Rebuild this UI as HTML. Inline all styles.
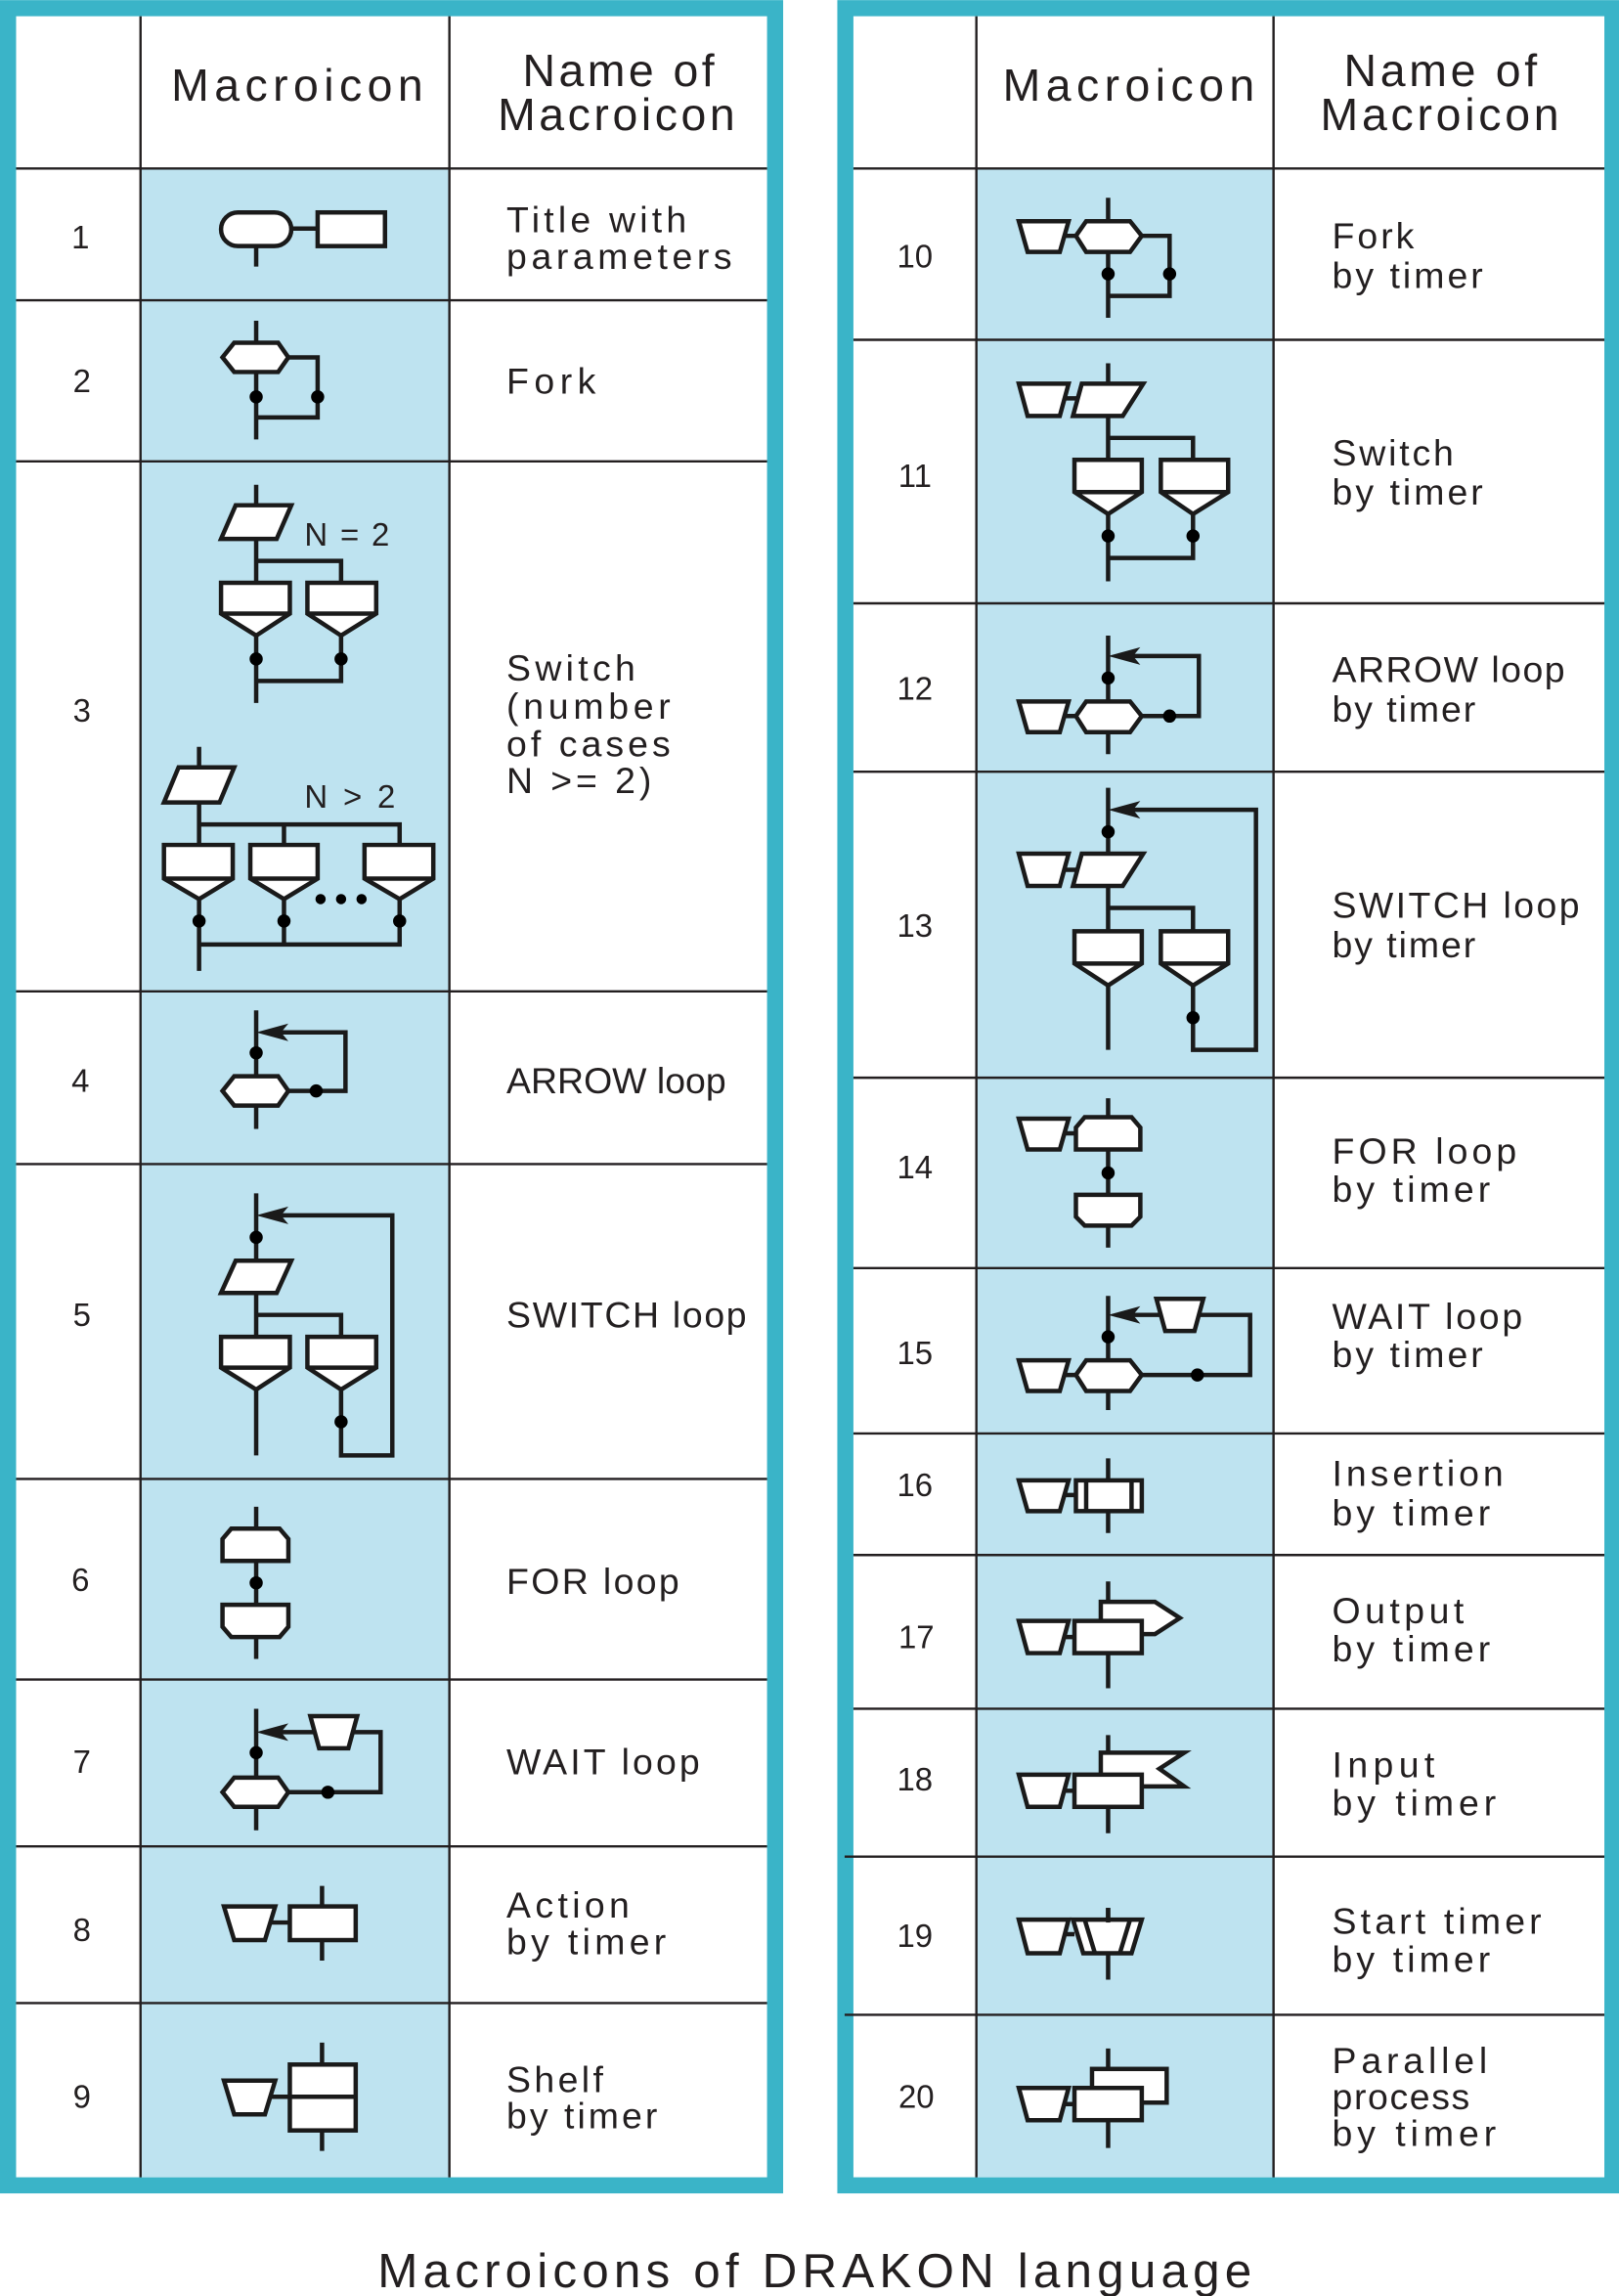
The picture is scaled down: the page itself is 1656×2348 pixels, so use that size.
<!DOCTYPE html>
<html><head><meta charset="utf-8"><style>
html,body{margin:0;padding:0;background:#fff}
svg{display:block}
text{font-family:"Liberation Sans",Arial,sans-serif;fill:#231f20}
.n{font-size:22px;text-anchor:middle;dominant-baseline:central}
.t{font-size:25px;dominant-baseline:central}
.h{font-size:31px;dominant-baseline:central}
.s{fill:#fff;stroke:#1a1a1a;stroke-width:3;stroke-linejoin:miter}
.l{fill:none;stroke:#1a1a1a;stroke-width:3}
.g{stroke:#231f20;stroke-width:1.6}
</style></head><body>
<svg width="1656" height="2348" viewBox="0 0 1106 1568" xmlns="http://www.w3.org/2000/svg">
<rect width="1106" height="1568" fill="#fff"/>
<rect x="0" y="0" width="535" height="1498" fill="#3ab4c8"/>
<rect x="11" y="11" width="513" height="1476" fill="#fff"/>
<rect x="572" y="0" width="534" height="1498" fill="#3ab4c8"/>
<rect x="583" y="11" width="513" height="1476" fill="#fff"/>
<rect x="96" y="115" width="211" height="1372" fill="#bee3f0"/>
<rect x="667" y="115" width="203" height="1372" fill="#bee3f0"/>
<g class="g">
<line x1="96" y1="11" x2="96" y2="1487"/><line x1="307" y1="11" x2="307" y2="1487"/>
<line x1="11" y1="115" x2="524" y2="115"/><line x1="11" y1="205" x2="524" y2="205"/>
<line x1="11" y1="315" x2="524" y2="315"/><line x1="11" y1="677" x2="524" y2="677"/>
<line x1="11" y1="795" x2="524" y2="795"/><line x1="11" y1="1010" x2="524" y2="1010"/>
<line x1="11" y1="1147" x2="524" y2="1147"/><line x1="11" y1="1261" x2="524" y2="1261"/>
<line x1="11" y1="1368" x2="524" y2="1368"/>
<line x1="667" y1="11" x2="667" y2="1487"/><line x1="870" y1="11" x2="870" y2="1487"/>
<line x1="583" y1="115" x2="1096" y2="115"/><line x1="583" y1="232" x2="1096" y2="232"/>
<line x1="583" y1="412" x2="1096" y2="412"/><line x1="583" y1="527" x2="1096" y2="527"/>
<line x1="583" y1="736" x2="1096" y2="736"/><line x1="583" y1="866" x2="1096" y2="866"/>
<line x1="583" y1="979" x2="1096" y2="979"/><line x1="583" y1="1062" x2="1096" y2="1062"/>
<line x1="583" y1="1167" x2="1096" y2="1167"/><line x1="577" y1="1268" x2="1096" y2="1268"/>
<line x1="577" y1="1376" x2="1096" y2="1376"/>
</g>
<text class="h" x="117" y="58" textLength="172" lengthAdjust="spacing">Macroicon</text>
<text class="h" x="357" y="48" textLength="131" lengthAdjust="spacing">Name of</text>
<text class="h" x="340" y="78" textLength="162" lengthAdjust="spacing">Macroicon</text>
<text class="h" x="685" y="58" textLength="172" lengthAdjust="spacing">Macroicon</text>
<text class="h" x="918" y="48" textLength="132" lengthAdjust="spacing">Name of</text>
<text class="h" x="902" y="78" textLength="163" lengthAdjust="spacing">Macroicon</text>
<text class="n" x="55" y="162">1</text><text class="n" x="56" y="260">2</text>
<text class="n" x="56" y="485">3</text><text class="n" x="55" y="738">4</text>
<text class="n" x="56" y="898">5</text><text class="n" x="55" y="1079">6</text>
<text class="n" x="56" y="1203">7</text><text class="n" x="56" y="1318">8</text>
<text class="n" x="56" y="1432">9</text>
<text class="n" x="625" y="175">10</text><text class="n" x="625" y="325">11</text>
<text class="n" x="625" y="470">12</text><text class="n" x="625" y="632">13</text>
<text class="n" x="625" y="797">14</text><text class="n" x="625" y="924">15</text>
<text class="n" x="625" y="1014">16</text><text class="n" x="626" y="1118">17</text>
<text class="n" x="625" y="1215">18</text><text class="n" x="625" y="1322">19</text>
<text class="n" x="626" y="1432">20</text>
<text class="t" x="346" y="150" textLength="123" lengthAdjust="spacing">Title with</text>
<text class="t" x="346" y="175" textLength="154" lengthAdjust="spacing">parameters</text>
<text class="t" x="346" y="260" textLength="61" lengthAdjust="spacing">Fork</text>
<text class="t" x="346" y="456" textLength="88" lengthAdjust="spacing">Switch</text>
<text class="t" x="346" y="482" textLength="112" lengthAdjust="spacing">(number</text>
<text class="t" x="346" y="508" textLength="112" lengthAdjust="spacing">of cases</text>
<text class="t" x="346" y="533" textLength="99" lengthAdjust="spacing">N &gt;= 2)</text>
<text class="t" x="346" y="738" textLength="150" lengthAdjust="spacing">ARROW loop</text>
<text class="t" x="346" y="898" textLength="164" lengthAdjust="spacing">SWITCH loop</text>
<text class="t" x="346" y="1080" textLength="118" lengthAdjust="spacing">FOR loop</text>
<text class="t" x="346" y="1203" textLength="132" lengthAdjust="spacing">WAIT loop</text>
<text class="t" x="346" y="1301" textLength="84" lengthAdjust="spacing">Action</text>
<text class="t" x="346" y="1326" textLength="109" lengthAdjust="spacing">by timer</text>
<text class="t" x="346" y="1420" textLength="66" lengthAdjust="spacing">Shelf</text>
<text class="t" x="346" y="1445" textLength="103" lengthAdjust="spacing">by timer</text>
<text class="t" x="910" y="161" textLength="56" lengthAdjust="spacing">Fork</text>
<text class="t" x="910" y="188" textLength="103" lengthAdjust="spacing">by timer</text>
<text class="t" x="910" y="309" textLength="83" lengthAdjust="spacing">Switch</text>
<text class="t" x="910" y="336" textLength="103" lengthAdjust="spacing">by timer</text>
<text class="t" x="910" y="457" textLength="159" lengthAdjust="spacing">ARROW loop</text>
<text class="t" x="910" y="484" textLength="98" lengthAdjust="spacing">by timer</text>
<text class="t" x="910" y="618" textLength="169" lengthAdjust="spacing">SWITCH loop</text>
<text class="t" x="910" y="645" textLength="98" lengthAdjust="spacing">by timer</text>
<text class="t" x="910" y="786" textLength="126" lengthAdjust="spacing">FOR loop</text>
<text class="t" x="910" y="812" textLength="108" lengthAdjust="spacing">by timer</text>
<text class="t" x="910" y="899" textLength="130" lengthAdjust="spacing">WAIT loop</text>
<text class="t" x="910" y="925" textLength="103" lengthAdjust="spacing">by timer</text>
<text class="t" x="910" y="1006" textLength="117" lengthAdjust="spacing">Insertion</text>
<text class="t" x="910" y="1033" textLength="108" lengthAdjust="spacing">by timer</text>
<text class="t" x="910" y="1100" textLength="90" lengthAdjust="spacing">Output</text>
<text class="t" x="910" y="1126" textLength="108" lengthAdjust="spacing">by timer</text>
<text class="t" x="910" y="1205" textLength="70" lengthAdjust="spacing">Input</text>
<text class="t" x="910" y="1231" textLength="112" lengthAdjust="spacing">by timer</text>
<text class="t" x="910" y="1312" textLength="143" lengthAdjust="spacing">Start timer</text>
<text class="t" x="910" y="1338" textLength="108" lengthAdjust="spacing">by timer</text>
<text class="t" x="910" y="1407" textLength="106" lengthAdjust="spacing">Parallel</text>
<text class="t" x="910" y="1432" textLength="94" lengthAdjust="spacing">process</text>
<text class="t" x="910" y="1457" textLength="112" lengthAdjust="spacing">by timer</text>
<text x="258" y="1551" style="font-size:33px;dominant-baseline:central" textLength="597" lengthAdjust="spacing">Macroicons of DRAKON language</text>

<line class="l" x1="175" y1="166" x2="175" y2="182"/>
<line class="l" x1="199" y1="156" x2="217" y2="156"/>
<rect class="s" x="151" y="145" width="48" height="23" rx="11.5"/>
<rect class="s" x="217" y="145" width="46" height="23"/>
<path class="l" d="M175 219V300M197 244H217V285H175"/>
<polygon class="s" points="152,244 160,234 190,234 197,244 190,254 160,254"/>
<circle cx="175" cy="271" r="4.5"/><circle cx="217" cy="271" r="4.5"/>
<path class="l" d="M175 331V480M175 383H233V398M175 465H233V434"/>
<polygon class="s" points="151,368 161,345 199,345 189,368"/>
<text x="208" y="365" style="font-size:22px;dominant-baseline:central" textLength="58" lengthAdjust="spacing">N = 2</text>
<polygon class="s" points="151,398 198,398 198,419 175,434 151,419"/><line class="l" x1="151" y1="419" x2="198" y2="419"/>
<polygon class="s" points="210,398 257,398 257,419 233,434 210,419"/><line class="l" x1="210" y1="419" x2="257" y2="419"/>
<circle cx="175" cy="450" r="4.5"/><circle cx="233" cy="450" r="4.5"/>
<path class="l" d="M136 510V663M136 563H273V577M194 563V577M136 645H273V614M194 645V614"/>
<polygon class="s" points="112,548 122,524 160,524 150,548"/>
<text x="208" y="544" style="font-size:22px;dominant-baseline:central" textLength="62" lengthAdjust="spacing">N &gt; 2</text>
<polygon class="s" points="112,577 159,577 159,600 136,614 112,600"/><line class="l" x1="112" y1="600" x2="159" y2="600"/>
<polygon class="s" points="171,577 217,577 217,600 194,614 171,600"/><line class="l" x1="171" y1="600" x2="217" y2="600"/>
<polygon class="s" points="249,577 296,577 296,600 273,614 249,600"/><line class="l" x1="249" y1="600" x2="296" y2="600"/>
<circle cx="136" cy="629" r="4.5"/><circle cx="194" cy="629" r="4.5"/><circle cx="273" cy="629" r="4.5"/>
<circle cx="219" cy="614" r="3.5"/><circle cx="233" cy="614" r="3.5"/><circle cx="247" cy="614" r="3.5"/>
<path class="l" d="M175 690V771M188 705H236V745H197"/>
<polygon points="175,705 197,699 192,705 197,711" fill="#1a1a1a"/>
<polygon class="s" points="152,745 160,735 190,735 197,745 190,755 160,755"/>
<circle cx="175" cy="719" r="4.5"/><circle cx="216" cy="745" r="4.5"/>
<path class="l" d="M175 815V994M188 830H268V994H233V934M175 898H233V913"/>
<polygon points="175,830 197,824 192,830 197,836" fill="#1a1a1a"/>
<polygon class="s" points="151,883 161,861 199,861 189,883"/>
<polygon class="s" points="151,913 198,913 198,934 175,949 151,934"/><line class="l" x1="151" y1="934" x2="198" y2="934"/>
<polygon class="s" points="210,913 257,913 257,934 233,949 210,934"/><line class="l" x1="210" y1="934" x2="257" y2="934"/>
<circle cx="175" cy="845" r="4.5"/><circle cx="233" cy="971" r="4.5"/>
<line class="l" x1="175" y1="1029" x2="175" y2="1133"/>
<polygon class="s" points="152,1051 158,1044 191,1044 197,1051 197,1066 152,1066"/>
<polygon class="s" points="152,1096 197,1096 197,1111 191,1118 158,1118 152,1111"/>
<circle cx="175" cy="1081" r="4.5"/>
<path class="l" d="M175 1167V1250M188 1183H214M242 1183H260V1224H197"/>
<polygon points="175,1183 197,1177 192,1183 197,1189" fill="#1a1a1a"/>
<polygon class="s" points="212,1172 244,1172 238,1194 218,1194"/>
<polygon class="s" points="152,1224 160,1214 190,1214 197,1224 190,1234 160,1234"/>
<circle cx="175" cy="1197" r="4.5"/><circle cx="224" cy="1224" r="4.5"/>
<path class="l" d="M220 1288V1339M184 1313H198"/>
<polygon class="s" points="153,1302 188,1302 181,1325 160,1325"/>
<rect class="s" x="198" y="1302" width="45" height="23"/>
<path class="l" d="M220 1395V1469M184 1432H198"/>
<polygon class="s" points="153,1421 188,1421 181,1444 160,1444"/>
<rect class="s" x="198" y="1410" width="45" height="45"/><line class="l" x1="198" y1="1432" x2="243" y2="1432"/>

<path class="l" d="M757 135V217M779 161H799V202H757M726 161H736"/>
<polygon class="s" points="696,151 730,151 724,172 702,172"/>
<polygon class="s" points="735,161 742,151 772,151 780,161 772,172 742,172"/>
<circle cx="757" cy="187" r="4.5"/><circle cx="799" cy="187" r="4.5"/>
<path class="l" d="M757 248V397M757 299H815V314M757 381H815V351M726 272H737"/>
<polygon class="s" points="696,262 730,262 724,284 702,284"/>
<polygon class="s" points="733,284 739,262 781,262 767,284"/>
<polygon class="s" points="734,314 780,314 780,336 757,351 734,336"/><line class="l" x1="734" y1="336" x2="780" y2="336"/>
<polygon class="s" points="793,314 839,314 839,336 815,351 793,336"/><line class="l" x1="793" y1="336" x2="839" y2="336"/>
<circle cx="757" cy="366" r="4.5"/><circle cx="815" cy="366" r="4.5"/>
<path class="l" d="M757 434V515M770 448H819V489H779M726 489H736"/>
<polygon points="757,448 779,442 774,448 779,454" fill="#1a1a1a"/>
<polygon class="s" points="696,479 730,479 724,500 702,500"/>
<polygon class="s" points="735,489 742,479 772,479 780,489 772,500 742,500"/>
<circle cx="757" cy="463" r="4.5"/><circle cx="799" cy="489" r="4.5"/>
<path class="l" d="M757 538V717M770 553H858V717H815V658M757 620H815V635M726 594H737"/>
<polygon points="757,553 779,547 774,553 779,559" fill="#1a1a1a"/>
<polygon class="s" points="696,583 730,583 724,605 702,605"/>
<polygon class="s" points="733,605 739,583 781,583 767,605"/>
<polygon class="s" points="734,636 780,636 780,658 757,673 734,658"/><line class="l" x1="734" y1="658" x2="780" y2="658"/>
<polygon class="s" points="793,636 839,636 839,658 815,673 793,658"/><line class="l" x1="793" y1="658" x2="839" y2="658"/>
<circle cx="757" cy="568" r="4.5"/><circle cx="815" cy="695" r="4.5"/>
<path class="l" d="M757 750V852M726 774H735"/>
<polygon class="s" points="696,764 730,764 724,785 702,785"/>
<polygon class="s" points="735,770 741,763 773,763 779,770 779,785 735,785"/>
<polygon class="s" points="735,816 779,816 779,831 773,837 741,837 735,831"/>
<circle cx="757" cy="801" r="4.5"/>
<path class="l" d="M757 885V963M770 898H792M820 898H854V939H779M726 939H736"/>
<polygon points="757,898 779,892 774,898 779,904" fill="#1a1a1a"/>
<polygon class="s" points="790,887 822,887 816,909 796,909"/>
<polygon class="s" points="696,929 730,929 724,950 702,950"/>
<polygon class="s" points="735,939 742,929 772,929 780,939 772,950 742,950"/>
<circle cx="757" cy="913" r="4.5"/><circle cx="818" cy="939" r="4.5"/>
<path class="l" d="M757 996V1047M726 1021H735"/>
<polygon class="s" points="696,1011 730,1011 724,1032 702,1032"/>
<rect class="s" x="735" y="1011" width="45" height="21"/>
<line class="l" x1="742" y1="1011" x2="742" y2="1032"/><line class="l" x1="773" y1="1011" x2="773" y2="1032"/>
<path class="l" d="M757 1080V1153M726 1118H735"/>
<polygon class="s" points="752,1116 752,1094 789,1094 806,1105 789,1116"/>
<polygon class="s" points="696,1107 730,1107 724,1129 702,1129"/>
<rect class="s" x="734" y="1107" width="46" height="22"/>
<path class="l" d="M757 1185V1252M726 1223H734"/>
<polygon class="s" points="752,1212 752,1197 809,1197 792,1208 809,1220 780,1220"/>
<polygon class="s" points="696,1212 730,1212 724,1234 702,1234"/>
<rect class="s" x="734" y="1212" width="46" height="22"/>
<path class="l" d="M757 1303V1352M726 1321H734"/>
<polygon class="s" points="696,1311 730,1311 724,1334 702,1334"/>
<polygon class="s" points="733,1311 780,1311 773,1334 740,1334"/>
<line class="l" x1="741" y1="1311" x2="748" y2="1334"/><line class="l" x1="772" y1="1311" x2="765" y2="1334"/>
<line class="l" x1="757" y1="1303" x2="757" y2="1313"/>
<path class="l" d="M757 1399V1467M726 1437H734"/>
<rect class="s" x="746" y="1413" width="51" height="23"/>
<polygon class="s" points="696,1426 730,1426 724,1448 702,1448"/>
<rect class="s" x="734" y="1426" width="46" height="22"/>
</svg>
</body></html>
